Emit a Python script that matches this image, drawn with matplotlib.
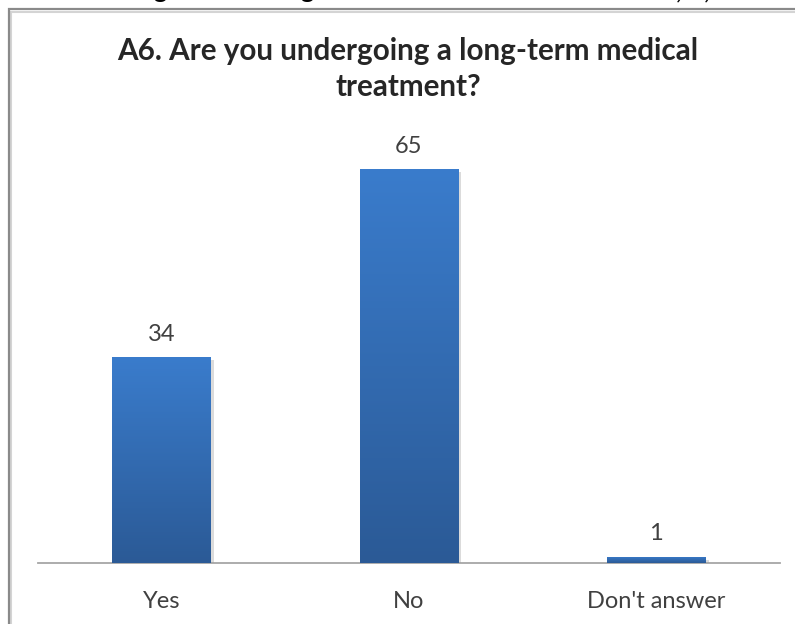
import numpy as np
import matplotlib
matplotlib.use("Agg")
import matplotlib.pyplot as plt
from matplotlib.colors import LinearSegmentedColormap
from matplotlib.patches import Rectangle
import matplotlib.patheffects as pe

plt.rcParams['font.family'] = ['Lato', 'DejaVu Sans']

categories = ["Yes", "No", "Don't answer"]
values = [34, 65, 1]
title = "A6. Are you undergoing a long-term medical\ntreatment?"

W, H, DPI = 795, 624, 100
fig = plt.figure(figsize=(W / DPI, H / DPI), dpi=DPI)
fig.patch.set_facecolor("white")

# outer chart frame (continues past the right and bottom edges), with a soft inner shadow
shadow = Rectangle((10.5 / W, -0.2), 1.5, (H - 11.5) / H + 0.2, transform=fig.transFigure,
                   fill=False, edgecolor="#d4d4d4", linewidth=1.5)
frame = Rectangle((8.5 / W, -0.2), 1.5, (H - 9.5) / H + 0.2, transform=fig.transFigure,
                  fill=False, edgecolor="#8a8a8a", linewidth=1.6)
fig.patches.extend([shadow, frame])

# descenders of the caption line above the chart
for xp, ch in [(160, "g"), (307, "g"), (679, ","), (707, ",")]:
    fig.text(xp / W, 1 + 2 / H, ch, ha="center", va="baseline",
             fontsize=18, fontweight="bold", color="black")

left, right, base, top = 38, 780, 563, 139
ax = fig.add_axes([left / W, (H - base) / H, (right - left) / W, (base - top) / H])
ymax = 70

x = np.arange(len(categories))
bars = ax.bar(x, values, width=0.40, color="#3468b0", zorder=2,
              path_effects=[pe.SimplePatchShadow(offset=(2, -2), shadow_rgbFace="#9a9a9a", alpha=0.35),
                            pe.Normal()])

cmap = LinearSegmentedColormap.from_list("barblue", ["#2b5a96", "#3a7ccc"])
grad = np.linspace(0, 1, 256).reshape(-1, 1)
for b in bars:
    x0, w, h = b.get_x(), b.get_width(), b.get_height()
    im = ax.imshow(grad, extent=[x0, x0 + w, 0, h], origin="lower", aspect="auto",
                   cmap=cmap, zorder=3)
    im.set_clip_path(b)

for xi, v in zip(x, values):
    ax.annotate(str(v), (xi, v), xytext=(0, 9), textcoords="offset points",
                ha="center", va="bottom", fontsize=17, color="#404040")

ax.set_xlim(-0.5, len(categories) - 0.5)
ax.set_ylim(0, ymax)
ax.set_xticks(x)
ax.set_xticklabels(categories, fontsize=17, color="#404040")
ax.tick_params(axis="x", length=0, pad=20)
ax.set_yticks([])
for s in ["left", "right", "top"]:
    ax.spines[s].set_visible(False)
ax.spines["bottom"].set_color("#a6a6a6")
ax.spines["bottom"].set_linewidth(1.3)
ax.spines["bottom"].set_zorder(1)
ax.patch.set_alpha(0)

fig.text(408 / W, 1 - 37 / H, title, ha="center", va="top", fontsize=21.3,
         fontweight="bold", color="#262626", linespacing=1.33)

fig.savefig("out.png", dpi=DPI)
